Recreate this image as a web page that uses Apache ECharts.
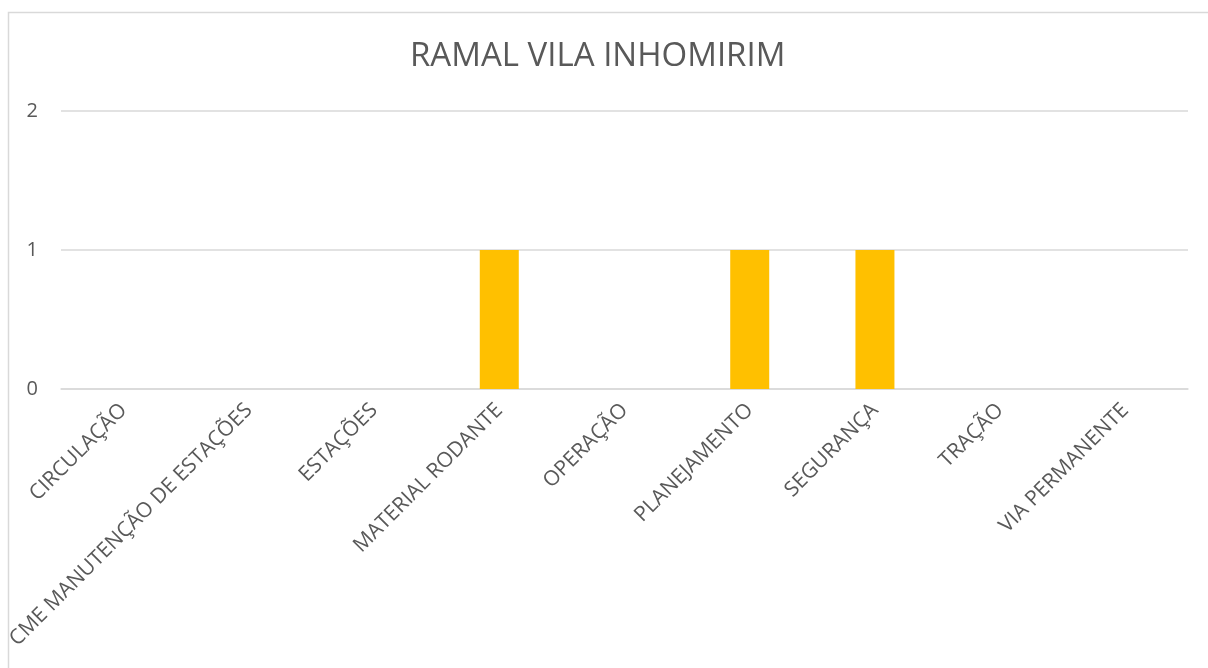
<!DOCTYPE html>
<html lang="pt">
  <head>
    <meta charset="UTF-8" />
    <script src="https://cdn.jsdelivr.net/npm/echarts@6/dist/echarts.min.js"></script>
    <style>
      html, body { margin: 0; padding: 0; background: #fff; }
      #main { width: 1208px; height: 668px; }
    </style>
    <title>Ramal Vila Inhomirim</title>
  </head>
  <body>
    <div id="main"></div>
    <script>
      const categories = [
        "CIRCULAÇÃO",
        "CME MANUTENÇÃO DE ESTAÇÕES",
        "ESTAÇÕES",
        "MATERIAL RODANTE",
        "OPERAÇÃO",
        "PLANEJAMENTO",
        "SEGURANÇA",
        "TRAÇÃO",
        "VIA PERMANENTE",
      ];
      const values = [0, 0, 0, 1, 0, 1, 1, 0, 0];

      const font = "'Open Sans', 'Noto Sans', sans-serif";
      const chart = echarts.init(document.getElementById("main"));

      chart.setOption({
        animation: false,
        title: {
          text: "RAMAL VILA INHOMIRIM",
          left: 405,
          top: 35,
          textStyle: { fontFamily: font, fontSize: 33, fontWeight: "normal", color: "#595959" },
        },
        graphic: [
          {
            type: "rect",
            shape: { x: 8.5, y: 12.5, width: 1220, height: 680 },
            style: { fill: "none", stroke: "#d9d9d9", lineWidth: 1.5 },
            silent: true,
          },
        ],
        grid: { left: 61, right: 20, top: 111, bottom: 279 },
        xAxis: {
          type: "category",
          data: categories,
          axisLine: { show: true, lineStyle: { color: "#d9d9d9", width: 1.5 } },
          axisTick: { show: false },
          axisLabel: {
            interval: 0,
            rotate: 45,
            margin: 18,
            fontFamily: font,
            fontSize: 21,
            color: "#595959",
          },
        },
        yAxis: {
          type: "value",
          min: 0,
          max: 2,
          interval: 1,
          axisLine: { show: false },
          axisTick: { show: false },
          splitLine: { lineStyle: { color: "#d9d9d9", width: 1.5 } },
          axisLabel: { margin: 23, fontFamily: font, fontSize: 20, color: "#595959" },
        },
        series: [
          {
            type: "bar",
            data: values,
            barWidth: 39,
            itemStyle: { color: "#FFC000" },
          },
        ],
      });
    </script>
  </body>
</html>
